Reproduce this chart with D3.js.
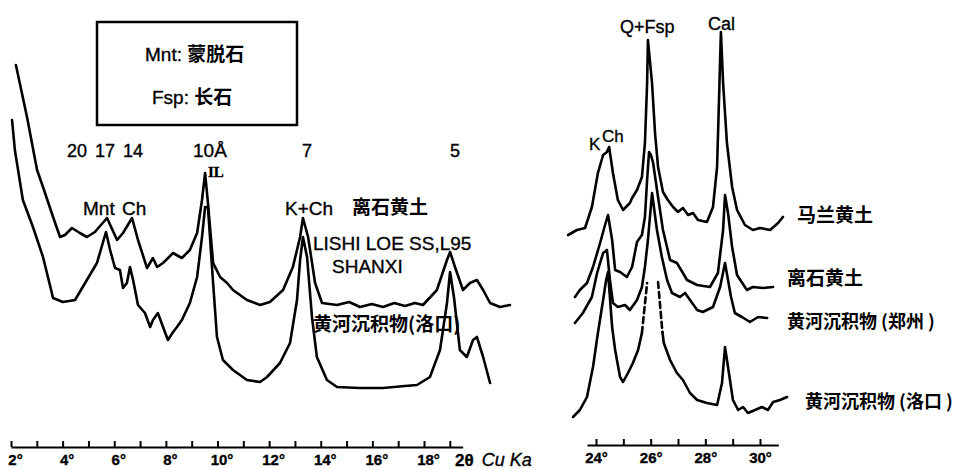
<!DOCTYPE html>
<html><head><meta charset="utf-8">
<script src="https://cdn.jsdelivr.net/npm/d3@7"></script>
<style>
html,body{margin:0;padding:0;background:#fff;}
svg{display:block;}
.lat{font-family:"Liberation Sans",Arial,Helvetica,sans-serif;fill:#000;stroke:#000;stroke-width:0.35px;}
.cjk{font-family:"Noto Sans CJK SC","Noto Sans",sans-serif;font-weight:700;fill:#000;}
</style></head>
<body>
<svg id="c" width="965" height="469"></svg>
<script>
// ---------- DATA (2θ in degrees as read on the drawn axes, relative intensity) ----------
const leftTicks = [2,3,4,5,6,7,8,9,10,11,12,13,14,15,16,17,18,19];
const rightTicks = [24,25,26,27,28,29,30];

// 离石黄土 (LISHI LOESS, L95, SHANXI), low-angle scan
const lishiLow = [
 [2.19,382],[2.62,330],[3.01,277],[3.24,260],[3.63,230],[3.90,210],[4.09,212],[4.36,219],
 [4.67,214],[4.94,210],[5.25,215],[5.72,229],[6.11,207],[6.34,214],[6.69,229],[6.92,207],
 [7.27,179],[7.50,189],[7.66,180],[7.89,184],[8.28,194],[8.62,189],[8.93,197],[9.21,214],
 [9.40,247],[9.52,274],[9.63,244],[9.83,184],[10.10,170],[10.37,164],[10.60,157],[11.14,147],
 [11.65,142],[12.03,145],[12.54,157],[12.92,180],[13.20,210],[13.31,229],[13.51,210],[13.78,164],
 [14.05,144],[14.63,142],[15.10,145],[15.52,140],[15.98,143],[16.41,140],[16.85,144],[17.26,141],
 [17.65,144],[17.96,142],[18.50,157],[18.89,187],[19.01,195],[19.20,180],[19.51,157],[19.78,164],
 [20.05,167],[20.29,157],[20.56,144],[20.94,140],[21.33,142]
];
// 黄河沉积物(洛口), low-angle scan
const luokouLow = [
 [2.04,327],[2.15,297],[2.46,247],[2.85,220],[3.24,190],[3.63,149],[4.01,145],[4.48,147],
 [4.94,167],[5.33,184],[5.68,215],[5.84,197],[6.03,179],[6.22,177],[6.34,159],[6.49,164],
 [6.61,180],[6.73,167],[6.92,142],[7.19,134],[7.39,120],[7.50,127],[7.69,134],[7.89,120],
 [8.08,107],[8.28,115],[8.43,120],[8.62,127],[8.93,144],[9.21,170],[9.40,210],[9.52,240],
 [9.63,240],[9.83,164],[9.98,110],[10.21,87],[10.60,77],[11.14,67],[11.65,65],[11.92,70],
 [12.42,84],[12.81,104],[13.08,147],[13.20,187],[13.31,210],[13.47,190],[13.66,130],[13.85,90],
 [14.24,67],[14.63,60],[15.52,59],[16.41,59],[17.26,61],[17.73,62],[18.23,70],[18.62,97],
 [18.89,144],[19.01,175],[19.16,150],[19.39,97],[19.66,90],[19.90,107],[20.05,110],[20.29,90],
 [20.56,64]
];
// 马兰黄土
const malan = [
 [22.98,212],[23.30,217],[23.60,219],[23.85,240],[24.07,274],[24.26,292],[24.40,295],[24.48,300],
 [24.62,274],[24.80,247],[24.99,237],[25.24,244],[25.32,249],[25.50,257],[25.68,270],[25.79,304],
 [25.87,364],[25.90,407],[26.05,364],[26.16,314],[26.27,280],[26.45,255],[26.63,247],[26.82,240],
 [27.00,235],[27.18,239],[27.37,232],[27.55,234],[27.73,227],[28.06,225],[28.28,240],[28.43,280],
 [28.50,347],[28.57,415],[28.65,364],[28.79,304],[28.98,260],[29.16,237],[29.45,222],[29.74,217],
 [30.00,219],[30.37,217],[30.66,224],[30.84,230]
];
// 离石黄土
const lishi = [
 [23.23,150],[23.41,157],[23.67,164],[23.89,180],[24.15,204],[24.33,222],[24.44,232],[24.59,207],
 [24.70,177],[24.88,175],[25.13,170],[25.32,180],[25.50,205],[25.68,212],[25.79,230],[25.87,267],
 [25.94,295],[26.01,292],[26.09,284],[26.27,250],[26.45,217],[26.71,187],[26.96,184],[27.18,174],
 [27.33,167],[27.70,162],[28.17,160],[28.46,174],[28.65,217],[28.72,252],[28.83,234],[28.98,200],
 [29.16,172],[29.52,157],[29.74,160],[30.11,159],[30.48,160]
];
// 黄河沉积物(郑州)
const zhengzhou = [
 [23.23,124],[23.52,134],[23.85,150],[24.04,174],[24.26,194],[24.40,197],[24.51,167],[24.62,144],
 [24.80,140],[25.06,142],[25.24,137],[25.50,147],[25.68,160],[25.79,180],[25.90,207],[26.05,254],
 [26.23,217],[26.41,190],[26.60,167],[26.78,154],[27.07,150],[27.26,154],[27.44,147],[27.70,137],
 [27.91,135],[28.28,140],[28.54,160],[28.72,184],[28.83,167],[28.94,150],[29.08,134],[29.34,130],
 [29.63,125],[29.93,130],[30.26,129]
];
// 黄河沉积物(洛口), high-angle scan (split where the trace passes behind the others)
const luokouA = [
 [23.16,30],[23.41,37],[23.67,50],[23.89,80],[24.07,114],[24.26,147],[24.37,167],[24.44,175],
 [24.59,120],[24.70,97],[24.88,70],[24.99,65],[25.17,74],[25.35,84],[25.54,97],[25.68,114]
];
const luokouDashL = [[25.68,114],[25.87,164]];
const luokouDashR = [[26.27,165],[26.43,115]];
const luokouB = [
 [26.43,115],[26.48,104],[26.71,87],[26.96,74],[27.18,67],[27.44,54],[27.70,47],[28.06,44],
 [28.43,42],[28.61,64],[28.72,100],[28.83,80],[29.01,47],[29.20,37],[29.38,40],[29.56,34],
 [29.82,37],[30.07,40],[30.29,37],[30.48,45],[30.73,47],[30.99,50]
];

// ---------- SCALES ----------
const svg = d3.select("#c");
const xL = d3.scaleLinear().domain([2,18]).range([11,424]);
const xR = d3.scaleLinear().domain([24,30]).range([596,760]);
const y = d3.scaleLinear().domain([0,440]).range([447,7]);

const lineL = d3.line().x(d=>xL(d[0])).y(d=>y(d[1]));
const lineR = d3.line().x(d=>xR(d[0])).y(d=>y(d[1]));

function trace(data, gen, dash){
  svg.append("path").datum(data).attr("d",gen)
    .attr("fill","none").attr("stroke","#000").attr("stroke-width",2.6)
    .attr("stroke-linejoin","round").attr("stroke-linecap","round")
    .attr("stroke-dasharray",dash||null);
}
trace(lishiLow,lineL); trace(luokouLow,lineL);
trace(malan,lineR); trace(lishi,lineR); trace(zhengzhou,lineR);
trace(luokouA,lineR); trace(luokouB,lineR);
trace(luokouDashL,lineR,"6,4"); trace(luokouDashR,lineR,"6,4");

// ---------- AXES ----------
const axL = d3.axisBottom(xL.copy().domain([2,19.5]).range([xL(2),xL(19.5)]))
  .tickValues(leftTicks).tickSizeInner(-6).tickSizeOuter(0).tickPadding(7)
  .tickFormat(d=> d%2===0 ? d+"°" : "");
const gL = svg.append("g").attr("transform","translate(0,447)").call(axL);
gL.selectAll("text").attr("dx",4);

const axR = d3.axisBottom(xR.copy().domain([23.67,30.67]).range([xR(23.67),xR(30.67)]))
  .tickValues(rightTicks).tickSizeInner(-6).tickSizeOuter(0).tickPadding(7)
  .tickFormat(d=> d%2===0 ? d+"°" : "");
const gR = svg.append("g").attr("transform","translate(0,445)").call(axR);

[gL,gR].forEach(g=>{
  g.select(".domain").attr("stroke","#000").attr("stroke-width",2);
  g.selectAll(".tick line").attr("stroke","#000").attr("stroke-width",2);
  g.selectAll("text").attr("class","lat").style("font-family",'"Liberation Sans",Arial,sans-serif')
    .style("font-size","15px").style("font-weight","700").attr("fill","#000");
});

const axT = svg.append("text").attr("class","lat").attr("x",455).attr("y",466).style("font-size","17px");
axT.append("tspan").text("2θ").style("font-weight","700");
axT.append("tspan").text(" Cu Ka").style("font-style","italic").attr("dx",3).style("font-size","18px");

// ---------- LEGEND BOX ----------
svg.append("rect").attr("x",97).attr("y",22).attr("width",200).attr("height",103)
  .attr("fill","none").attr("stroke","#000").attr("stroke-width",2.5);
function mixed(x,yv,lat,cjk,size){
  const t = svg.append("text").attr("x",x).attr("y",yv).style("font-size",size+"px");
  t.append("tspan").attr("class","lat").text(lat);
  t.append("tspan").attr("class","cjk").text(cjk);
}
mixed(145,61,"Mnt: ","蒙脱石",19);
mixed(152,104,"Fsp: ","长石",19);

// ---------- ANNOTATIONS ----------
function lab(x,yv,txt,size,cls,extra){
  const t = svg.append("text").attr("class",cls||"lat").attr("x",x).attr("y",yv)
    .style("font-size",size+"px").text(txt);
  if(extra) extra(t);
  return t;
}
// d-spacing row
lab(67,157,"20 17 14",18,"lat",t=>t.style("word-spacing","3px"));
lab(193,157,"10Å",19);
lab(302,157,"7",18);
lab(450,157,"5",18);
lab(208,177,"IL",15,"lat",t=>t.style("font-family",'"Liberation Serif",serif').style("font-weight","700"));
lab(83,215,"Mnt Ch",19,"lat",t=>t.style("word-spacing","2px"));
lab(285,215,"K+Ch",19);
lab(352,214,"离石黄土",19,"cjk");
lab(313,250,"LISHI  LOE SS,L95",19);
lab(332,273,"SHANXI",19);
lab(313,331,"黄河沉积物(洛口)",19,"cjk");

// right panel
lab(620,33,"Q+Fsp",18);
lab(708,30,"Cal",18);
lab(589,150,"K",17);
lab(602,142,"Ch",17);
lab(797,222,"马兰黄土",19,"cjk");
lab(787,285,"离石黄土",19,"cjk");
lab(787,328,"黄河沉积物 (郑州 )",18,"cjk");
lab(805,408,"黄河沉积物 (洛口 )",18,"cjk");
</script>
</body></html>
